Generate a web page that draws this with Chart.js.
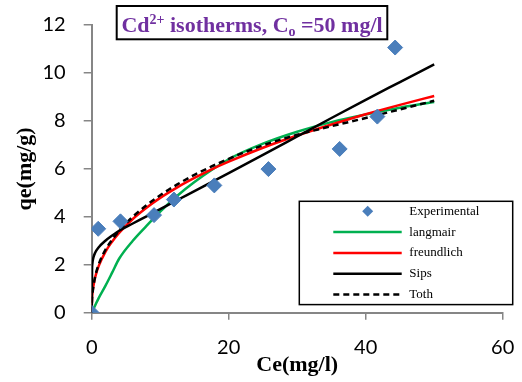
<!DOCTYPE html>
<html>
<head>
<meta charset="utf-8">
<script src="https://cdn.jsdelivr.net/npm/chart.js@4/dist/chart.umd.min.js"></script>
<style>
  body { margin: 0; background: #fff; }
  #wrap { width: 522px; height: 382px; }
</style>
</head>
<body>
<div id="wrap"><canvas id="isoChart" width="522" height="382"></canvas></div>
<script>
// measured equilibrium data
var ceExp = [0, 0.95, 4.2, 9.1, 12.0, 17.9, 25.8, 36.2, 41.7, 44.3];
var qeExp = [0, 3.5, 3.81, 4.07, 4.72, 5.31, 5.99, 6.83, 8.18, 11.06];

// model curves sampled on a common Ce grid
var ceFit = [0, 0.05, 0.1, 0.25, 0.5, 1, 2, 3, 4, 6, 8, 10, 12.5, 15, 17.5, 20, 25, 30, 35, 40, 45, 50];
var qLangmair = [0, 0.03, 0.06, 0.15, 0.3, 0.6, 1.12, 1.68, 2.25, 3.0, 3.62, 4.22, 4.88, 5.45, 5.95, 6.4, 7.05, 7.55, 7.95, 8.27, 8.55, 8.79];
var qFreundlich = [0, 0.59, 0.78, 1.11, 1.47, 1.93, 2.54, 2.97, 3.33, 3.91, 4.38, 4.79, 5.23, 5.62, 5.98, 6.3, 6.88, 7.39, 7.85, 8.28, 8.67, 9.04];
var qSips = [0, 1.75, 2.05, 2.3, 2.5, 2.72, 3.0, 3.22, 3.42, 3.72, 4.02, 4.32, 4.7, 5.07, 5.45, 5.82, 6.58, 7.35, 8.12, 8.88, 9.62, 10.36];
var qToth = [0, 0.55, 0.75, 1.1, 1.5, 2.0, 2.62, 3.05, 3.42, 4.0, 4.48, 4.9, 5.35, 5.75, 6.1, 6.42, 6.98, 7.42, 7.78, 8.12, 8.48, 8.84];

var xTicks = [0, 20, 40, 60];
var yTicks = [0, 2, 4, 6, 8, 10, 12];

function pts(xs, ys) {
    return xs.map(function(x, i) { return { x: x, y: ys[i] }; });
}

var axisGray = '#868686';
var serif = '"Liberation Serif", "Times New Roman", serif';

// framed title and legend drawn over the plot area
var overlayPlugin = {
    id: 'overlay',
    afterDraw: function(chart) {
        var ctx = chart.ctx;
        ctx.save();

        // title box
        var bx = 116.7, by = 6, bw = 270.6, bh = 33.3;
        ctx.fillStyle = '#fff';
        ctx.fillRect(bx, by, bw, bh);
        ctx.lineWidth = 2;
        ctx.strokeStyle = '#000';
        ctx.strokeRect(bx, by, bw, bh);

        var big = 'bold 22px ' + serif;
        var small = 'bold 14px ' + serif;
        var parts = [
            { t: 'Cd', f: big, dy: 0 },
            { t: '2+', f: small, dy: -8 },
            { t: ' isotherms, C', f: big, dy: 0 },
            { t: 'o', f: small, dy: 4 },
            { t: ' =50 mg/l', f: big, dy: 0 }
        ];
        var total = 0;
        parts.forEach(function(p) { ctx.font = p.f; p.w = ctx.measureText(p.t).width; total += p.w; });
        var tx = bx + bw / 2 - total / 2, ty = 31.5;
        ctx.fillStyle = '#7030A0';
        ctx.textBaseline = 'alphabetic';
        ctx.textAlign = 'left';
        parts.forEach(function(p) {
            ctx.font = p.f;
            ctx.fillText(p.t, tx, ty + p.dy);
            tx += p.w;
        });

        // legend box
        var lx = 299.3, ly = 201.3, lw = 213.4, lh = 103.3;
        ctx.fillStyle = '#fff';
        ctx.fillRect(lx, ly, lw, lh);
        ctx.lineWidth = 1.5;
        ctx.strokeStyle = '#000';
        ctx.strokeRect(lx, ly, lw, lh);

        var rowY = 211.3, step = 20.8;
        ctx.font = '13px ' + serif;
        ctx.textBaseline = 'middle';
        chart.data.datasets.forEach(function(ds, k) {
            var y = rowY + k * step;
            if (ds.showLine) {
                ctx.beginPath();
                ctx.setLineDash(ds.borderDash || []);
                ctx.lineWidth = ds.borderWidth;
                ctx.strokeStyle = ds.borderColor;
                ctx.moveTo(333.3, y);
                ctx.lineTo(401.7, y);
                ctx.stroke();
                ctx.setLineDash([]);
            } else {
                ctx.fillStyle = ds.backgroundColor;
                ctx.beginPath();
                ctx.moveTo(367.7, y - 5.5);
                ctx.lineTo(373.2, y);
                ctx.lineTo(367.7, y + 5.5);
                ctx.lineTo(362.2, y);
                ctx.closePath();
                ctx.fill();
            }
            ctx.fillStyle = '#000';
            ctx.fillText(ds.label, 409.3, y);
        });

        ctx.restore();
    }
};

var ctx = document.getElementById('isoChart').getContext('2d');
new Chart(ctx, {
    type: 'scatter',
    data: {
        datasets: [{
            label: 'Experimental',
            data: pts(ceExp, qeExp),
            showLine: false,
            pointStyle: 'rectRot',
            pointRadius: 7.5,
            backgroundColor: '#4A7EBB',
            borderColor: '#4A7EBB',
            borderWidth: 1,
            order: 0
        }, {
            label: 'langmair',
            data: pts(ceFit, qLangmair),
            showLine: true,
            borderColor: '#00B050',
            backgroundColor: '#00B050',
            borderWidth: 2.5,
            pointRadius: 0,
            cubicInterpolationMode: 'monotone',
            order: 4
        }, {
            label: 'freundlich',
            data: pts(ceFit, qFreundlich),
            showLine: true,
            borderColor: '#FF0000',
            backgroundColor: '#FF0000',
            borderWidth: 2.5,
            pointRadius: 0,
            cubicInterpolationMode: 'monotone',
            order: 3
        }, {
            label: 'Sips',
            data: pts(ceFit, qSips),
            showLine: true,
            borderColor: '#000000',
            backgroundColor: '#000000',
            borderWidth: 2.5,
            pointRadius: 0,
            cubicInterpolationMode: 'monotone',
            order: 2
        }, {
            label: 'Toth',
            data: pts(ceFit, qToth),
            showLine: true,
            borderColor: '#000000',
            backgroundColor: '#000000',
            borderWidth: 2.5,
            borderDash: [6, 4],
            pointRadius: 0,
            cubicInterpolationMode: 'monotone',
            order: 1
        }]
    },
    options: {
        responsive: false,
        animation: false,
        layout: { padding: { top: 25, right: 19.3, left: 0, bottom: 0 }, autoPadding: false },
        plugins: {
            legend: { display: false },
            title: { display: false },
            tooltip: { enabled: false }
        },
        scales: {
            x: {
                type: 'linear',
                min: 0,
                max: 60,
                afterBuildTicks: function(scale) {
                    scale.ticks = xTicks.map(function(v) { return { value: v }; });
                },
                afterFit: function(scale) {
                    scale.height = 69.3;
                    scale.paddingLeft = 0;
                    scale.paddingRight = 0;
                },
                grid: { drawOnChartArea: false, drawTicks: true, tickLength: 7, color: axisGray, lineWidth: 1.5 },
                border: { color: axisGray, width: 2 },
                ticks: { font: { family: 'Lato', size: 20 }, color: '#000', padding: 16 },
                title: {
                    display: true,
                    text: 'Ce(mg/l)',
                    font: { family: serif, size: 22, weight: 'bold' },
                    color: '#000',
                    padding: { top: 0, bottom: 3 }
                }
            },
            y: {
                type: 'linear',
                min: 0,
                max: 12,
                afterBuildTicks: function(scale) {
                    scale.ticks = yTicks.map(function(v) { return { value: v }; });
                },
                afterFit: function(scale) {
                    scale.width = 91.7;
                    scale.paddingTop = 0;
                    scale.paddingBottom = 0;
                },
                grid: { drawOnChartArea: false, drawTicks: true, tickLength: 8, color: axisGray, lineWidth: 1.5 },
                border: { color: axisGray, width: 2 },
                ticks: { font: { family: 'Lato', size: 20 }, color: '#000', padding: 18 },
                title: {
                    display: true,
                    text: 'qe(mg/g)',
                    font: { family: serif, size: 22, weight: 'bold' },
                    color: '#000',
                    padding: { top: 12, bottom: 0 }
                }
            }
        }
    },
    plugins: [overlayPlugin]
});
</script>
</body>
</html>
